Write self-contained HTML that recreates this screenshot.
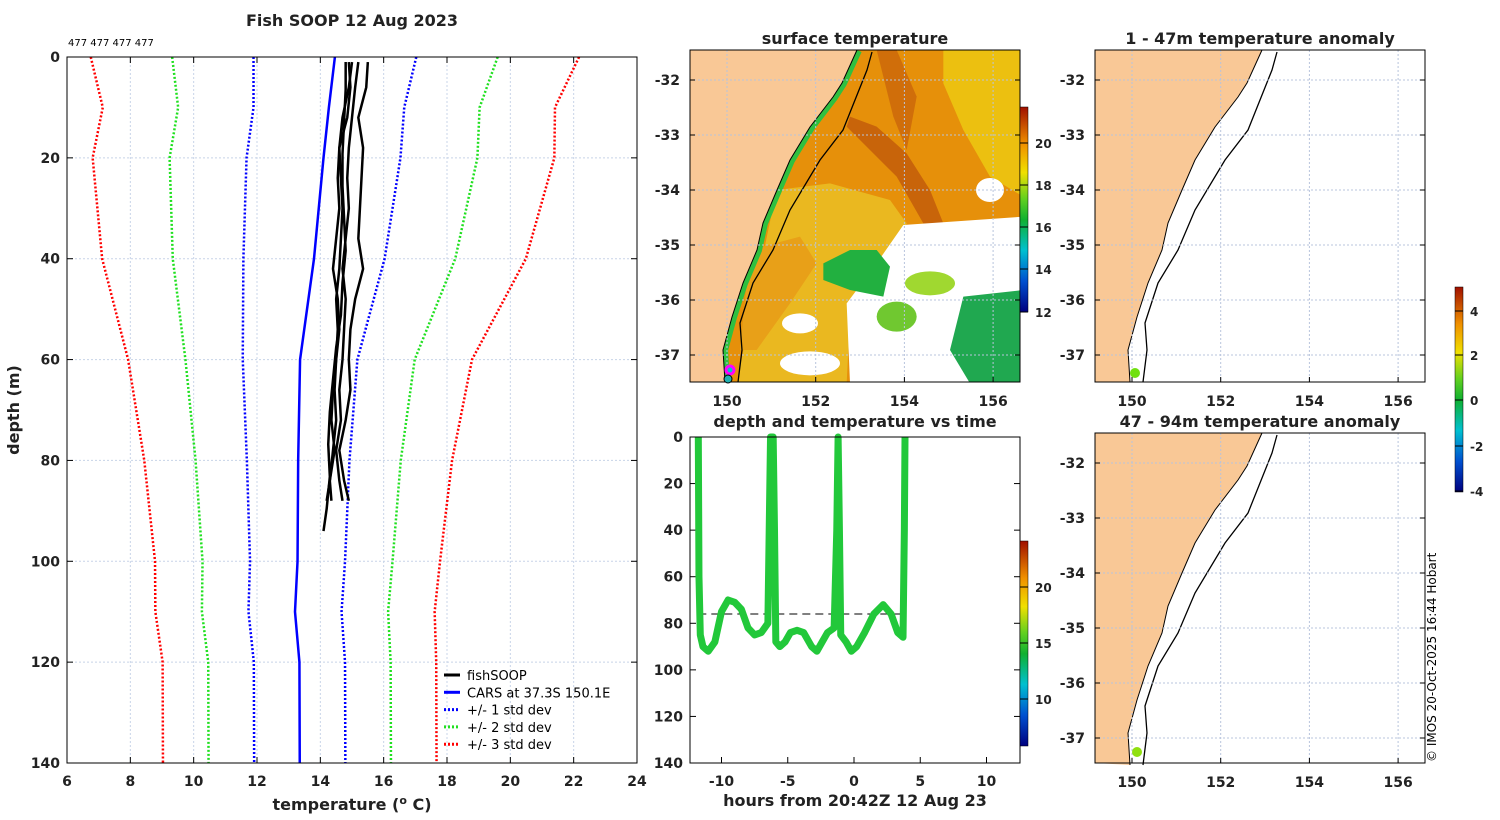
<!DOCTYPE html>
<html><head><meta charset="utf-8"><style>
body{margin:0;background:#fff;width:1500px;height:820px;overflow:hidden}
svg{display:block;font-family:"DejaVu Sans","Liberation Sans",sans-serif}
.t{font-weight:bold;font-size:16px;fill:#222}
.tk{font-weight:bold;font-size:14px;fill:#222}
</style></head><body>
<svg id="s" width="1500" height="820" viewBox="0 0 1500 820">
<defs>
<linearGradient id="jet" x1="0" y1="1" x2="0" y2="0">
<stop offset="0" stop-color="#00007f"/><stop offset="0.15" stop-color="#0050d0"/><stop offset="0.3" stop-color="#00c0d0"/><stop offset="0.45" stop-color="#10b030"/><stop offset="0.55" stop-color="#60d020"/><stop offset="0.68" stop-color="#f0e000"/><stop offset="0.82" stop-color="#f09000"/><stop offset="1" stop-color="#a01000"/></linearGradient>
<clipPath id="cm"><rect x="690" y="50" width="330" height="332"/></clipPath>
</defs>
<g id="left"></g>
<g id="mid"></g>
<g id="ts"></g>
<g id="right"></g>
</svg>
<script>
// profile data
const depths=[0,10,20,40,60,80,100,110,120,140];
const carsMean=[14.46,14.27,14.1,13.8,13.36,13.3,13.28,13.2,13.34,13.35];
const carsSd=[2.57,2.38,2.43,2.23,1.81,1.62,1.5,1.47,1.44,1.44];
const fishDepths=[1,6,12,18,24,30,36,42,48,54,60,66,72,78,84,88];
const fishA=[15.5,15.45,15.2,15.35,15.3,15.25,15.2,15.35,15.1,14.95,14.9,14.95,14.8,14.6,14.75,14.9];
const fishB=[15.2,15.1,15.0,14.9,14.85,14.9,14.8,14.7,14.8,14.75,14.7,14.6,14.65,14.5,14.6,14.7];
const fishC=[14.9,14.95,14.85,14.6,14.55,14.6,14.5,14.4,14.55,14.6,14.5,14.45,14.5,14.4,14.3,14.2];
const fishD=[14.8,14.8,14.75,14.7,14.7,14.75,14.8,14.7,14.65,14.5,14.4,14.3,14.25,14.3,14.2,14.1];
const fishE=[15.0,14.9,14.7,14.6,14.65,14.7,14.65,14.6,14.5,14.55,14.5,14.4,14.35,14.45,14.3,14.35];
const xTicks=[6,8,10,12,14,16,18,20,22,24];
const yTicks=[0,20,40,60,80,100,120,140];
// time series data
const tHours=[-11.75,-11.7,-11.6,-11.4,-11,-10.5,-10,-9.5,-9,-8.5,-8,-7.5,-7,-6.5,-6.4,-6.3,-6.1,-6.0,-5.9,-5.6,-5.2,-4.8,-4.3,-3.8,-3.2,-2.8,-2.4,-2,-1.5,-1.3,-1.2,-1.1,-1.0,-0.6,-0.2,0.2,0.8,1.5,2.2,2.8,3.3,3.7,3.8,3.85];
const tDepth=[0,60,85,90,92,88,75,70,71,74,82,85,84,80,40,0,0,40,88,90,88,84,83,84,90,92,88,84,82,40,0,40,85,88,92,90,84,76,72,76,84,86,40,0];
const tsXTicks=[-10,-5,0,5,10];
const tsYTicks=[0,20,40,60,80,100,120,140];
const mlDepth=76;

const NS='http://www.w3.org/2000/svg';
function mk(p,tag,at,txt){const e=document.createElementNS(NS,tag);for(const k in at)e.setAttribute(k,at[k]);if(txt!==undefined)e.textContent=txt;p.appendChild(e);return e;}

// ---- left panel
const L=document.getElementById('left');
const lx=v=>67+(v-6)*570/18, ly=d=>57+d*706/140;
mk(L,'rect',{x:67,y:57,width:570,height:706,fill:'#fff',stroke:'none'});
xTicks.forEach(v=>{const g=mk(L,'line',{x1:lx(v),x2:lx(v),y1:57,y2:763,stroke:'#c8d4e8','stroke-dasharray':'2,2','stroke-width':1});
 mk(L,'line',{x1:lx(v),x2:lx(v),y1:763,y2:757,stroke:'#000'});mk(L,'line',{x1:lx(v),x2:lx(v),y1:57,y2:63,stroke:'#000'});
 const t=mk(L,'text',{x:lx(v),y:786,'text-anchor':'middle',class:'tk'},v);});
yTicks.forEach(v=>{const g=mk(L,'line',{x1:67,x2:637,y1:ly(v),y2:ly(v),stroke:'#c8d4e8','stroke-dasharray':'2,2'});
 mk(L,'line',{x1:67,x2:73,y1:ly(v),y2:ly(v),stroke:'#000'});mk(L,'line',{x1:637,x2:631,y1:ly(v),y2:ly(v),stroke:'#000'});
 const t=mk(L,'text',{x:60,y:ly(v)+5,'text-anchor':'end',class:'tk'},v);});
function pline(vals,col,dash,w,name){const pts=depths.map((d,i)=>lx(vals[i])+','+ly(d)).join(' ');const e=mk(L,'polyline',{points:pts,fill:'none',stroke:col,'stroke-width':w});if(dash)e.setAttribute('stroke-dasharray',dash);}
[[3,'#ff0000'],[2,'#20e020'],[1,'#0000ff']].forEach(([k,c])=>{
 pline(carsMean.map((m,i)=>m-k*carsSd[i]),c,'2,2',2.5,'minus-'+k+'-std-line');
 pline(carsMean.map((m,i)=>m+k*carsSd[i]),c,'2,2',2.5,'plus-'+k+'-std-line');});
pline(carsMean,'#0000ff',null,2.5,'cars-mean-line');
[fishA,fishB,fishC,fishD,fishE].forEach((f,j)=>{const pts=fishDepths.map((d,i)=>lx(f[i])+','+ly(d+(j==3?i*0.4:0))).join(' ');const e=mk(L,'polyline',{points:pts,fill:'none',stroke:'#000','stroke-width':2.5,'stroke-linejoin':'round'});});
mk(L,'rect',{x:67,y:57,width:570,height:706,fill:'none',stroke:'#000'});
const tt=mk(L,'text',{x:352,y:26,'text-anchor':'middle',class:'t'},'Fish SOOP 12 Aug 2023');
const tc=mk(L,'text',{x:68,y:46,'font-size':'10px',fill:'#000'},'477 477 477 477');
const xl=mk(L,'text',{x:352,y:810,'text-anchor':'middle',class:'t'},'temperature (');
mk(xl,'tspan',{dy:-6,'font-size':'11px'},'o');mk(xl,'tspan',{dy:6},' C)');
const yl=mk(L,'text',{x:19,y:410,'text-anchor':'middle',class:'t',transform:'rotate(-90 19 410)'},'depth (m)');
[['fishSOOP','#000',null],['CARS at 37.3S 150.1E','#0000ff',null],['+/- 1 std dev','#0000ff','2,2'],['+/- 2 std dev','#20e020','2,2'],['+/- 3 std dev','#ff0000','2,2']].forEach(([s,c,d],i)=>{
 const g=mk(L,'g',{});
 const y=675+i*17.3;const l=mk(g,'line',{x1:444,x2:460,y1:y,y2:y,stroke:c,'stroke-width':3});if(d)l.setAttribute('stroke-dasharray',d);
 mk(g,'text',{x:467,y:y+5,'font-size':'13px',fill:'#000'},s);});

// ---- maps shared geometry
const coast=[[1262,50],[1247,83],[1238,97],[1215,127],[1195,160],[1182,190],[1168,223],[1162,250],[1148,283],[1137,317],[1128,350],[1130,382]];
const iso=[[1277,52],[1272,70],[1248,130],[1225,160],[1195,210],[1178,250],[1158,283],[1145,323],[1147,350],[1143,382]];
function map(P,dx,dy,y0,y1,yt,lats,colorfill){
 const x0=1095-dx,x1=1425-dx;
 const cp=coast.map(([x,y])=>(x-dx)+','+(y+dy)).join(' ');
 if(colorfill){colorfill();mk(P,'polyline',{points:cp,fill:'none',stroke:'#30c040','stroke-width':10,'clip-path':'url(#cm)'});}
 const land=mk(P,'polygon',{points:x0+','+(y0)+' '+cp+' '+x0+','+y1,fill:'#f9c896'});
 const c=mk(P,'polyline',{points:cp,fill:'none',stroke:'#000','stroke-width':1});
 const is=mk(P,'polyline',{points:iso.map(([x,y])=>(x-dx)+','+(y+dy)).join(' '),fill:'none',stroke:'#000','stroke-width':1.3});
 [150,152,154,156].forEach((lon,i)=>{const x=1132-dx+i*88.7;mk(P,'line',{x1:x,x2:x,y1:y0,y2:y1,stroke:'#b8c4dc','stroke-dasharray':'2,2'});mk(P,'line',{x1:x,x2:x,y1:y1,y2:y1-5,stroke:'#000'});
  const t=mk(P,'text',{x:x,y:y1+24,'text-anchor':'middle',class:'tk'},lon);});
 lats.forEach((la,i)=>{const y=yt+i*55;mk(P,'line',{x1:x0,x2:x1,y1:y,y2:y,stroke:'#b8c4dc','stroke-dasharray':'2,2'});mk(P,'line',{x1:x0,x2:x0+5,y1:y,y2:y,stroke:'#000'});mk(P,'line',{x1:x1,x2:x1-5,y1:y,y2:y,stroke:'#000'});
  const t=mk(P,'text',{x:x0-10,y:y+5,'text-anchor':'end',class:'tk'},la);});
 mk(P,'rect',{x:x0,y:y0,width:330,height:y1-y0,fill:'none',stroke:'#000'});
}
const lats=[-32,-33,-34,-35,-36,-37];
// middle map
const M=document.getElementById('mid');
const mg=mk(M,'g',{'clip-path':'url(#cm)'});
map(M,405,0,50,382,80,lats,()=>{
 const z=(a)=>a.map(([x,y])=>(690+x/3)+','+(50+y/3)).join(' ');
 mk(mg,'rect',{x:690,y:50,width:330,height:332,fill:'#e6900a'});
 mk(mg,'polygon',{points:z([[760,0],[1000,0],[1000,440],[900,380],[820,240],[760,100]]),fill:'#ecc010'});
 mk(mg,'polygon',{points:z([[480,200],[560,230],[650,310],[720,420],[760,520],[700,520],[620,380],[520,280],[470,230]]),fill:'#c8640a'});
 mk(mg,'polygon',{points:z([[560,0],[620,0],[680,140],[650,300],[610,200]]),fill:'#d06e0a'});
 mk(mg,'polygon',{points:z([[260,420],[420,400],[600,450],[650,520],[600,620],[480,800],[470,1000],[140,1000],[180,800]]),fill:'#eab820'});
 mk(mg,'polygon',{points:z([[180,600],[330,560],[380,640],[300,760],[200,900],[150,900]]),fill:'#e8a018'});
 mk(mg,'polygon',{points:z([[640,525],[1000,500],[1000,1000],[480,1000],[470,760],[560,640]]),fill:'#ffffff'});
 mk(mg,'polygon',{points:z([[400,640],[480,600],[560,600],[600,650],[580,740],[480,720],[400,690]]),fill:'#22b040'});
 mk(mg,'polygon',{points:z([[820,740],[1000,720],[1000,1000],[840,1000],[780,900]]),fill:'#20a850'});
 mk(mg,'ellipse',{cx:690+620/3,cy:50+800/3,rx:20,ry:15,fill:'#70c830'});
 mk(mg,'ellipse',{cx:690+720/3,cy:50+700/3,rx:25,ry:12,fill:'#a0d830'});
 mk(mg,'ellipse',{cx:690+900/3,cy:50+420/3,rx:14,ry:12,fill:'#ffffff'});
 mk(mg,'ellipse',{cx:690+330/3,cy:50+820/3,rx:18,ry:10,fill:'#ffffff'});
 mk(mg,'ellipse',{cx:690+360/3,cy:50+940/3,rx:30,ry:12,fill:'#ffffff'});
});
const mm=mk(M,'circle',{cx:730,cy:370,r:4,fill:'#00c8c0',stroke:'#ff00ff','stroke-width':3});
mk(M,'circle',{cx:728,cy:379,r:4,fill:'#20b0b0',stroke:'#000','stroke-width':1});
const cb1=mk(M,'rect',{x:1020,y:107,width:8,height:205,fill:'url(#jet)',stroke:'#000','stroke-width':0.5});
[[12,312],[14,269],[16,227],[18,185],[20,143]].forEach(([v,y])=>{mk(M,'line',{x1:1020,x2:1028,y1:y,y2:y,stroke:'#000'});const t=mk(M,'text',{x:1035,y:y+5,'font-size':'12px','font-weight':'bold',fill:'#222'},v);});
const t2=mk(M,'text',{x:855,y:44,'text-anchor':'middle',class:'t'},'surface temperature');

// ---- time series
const T=document.getElementById('ts');
const tx=h=>854+h*13.25, ty=d=>437+d*326/140;
tsXTicks.forEach(v=>{mk(T,'line',{x1:tx(v),x2:tx(v),y1:763,y2:757,stroke:'#000'});const t=mk(T,'text',{x:tx(v),y:786,'text-anchor':'middle',class:'tk'},v);});
tsYTicks.forEach(v=>{mk(T,'line',{x1:690,x2:696,y1:ty(v),y2:ty(v),stroke:'#000'});mk(T,'line',{x1:1020,x2:1014,y1:ty(v),y2:ty(v),stroke:'#000'});const t=mk(T,'text',{x:683,y:ty(v)+5,'text-anchor':'end',class:'tk'},v);});
const ml=mk(T,'line',{x1:tx(tHours[0]),x2:tx(tHours[tHours.length-1]),y1:ty(mlDepth),y2:ty(mlDepth),stroke:'#000','stroke-dasharray':'8,5'});
const tr=mk(T,'polyline',{points:tHours.map((h,i)=>tx(h)+','+ty(tDepth[i])).join(' '),fill:'none',stroke:'#22c83a','stroke-width':7,'stroke-linejoin':'round'});
mk(T,'rect',{x:690,y:437,width:330,height:326,fill:'none',stroke:'#000'});
const cb2=mk(T,'rect',{x:1020,y:541,width:8,height:205,fill:'url(#jet)',stroke:'#000','stroke-width':0.5});
[[20,587],[15,643],[10,699]].forEach(([v,y])=>{mk(T,'line',{x1:1020,x2:1028,y1:y,y2:y,stroke:'#000'});const t=mk(T,'text',{x:1035,y:y+5,'font-size':'12px','font-weight':'bold',fill:'#222'},v);});
const t3=mk(T,'text',{x:855,y:427,'text-anchor':'middle',class:'t'},'depth and temperature vs time');
const t4=mk(T,'text',{x:855,y:806,'text-anchor':'middle',class:'t'},'hours from 20:42Z 12 Aug 23');

// ---- right maps
const R=document.getElementById('right');
const r1=mk(R,'g',{});
map(r1,0,0,50,382,80,lats,null);
mk(r1,'circle',{cx:1135,cy:373,r:5,fill:'#70e010'});
const r2=mk(R,'g',{});
map(r2,0,383,433,763,463,lats,null);
mk(r2,'circle',{cx:1137,cy:752,r:5,fill:'#90e010'});
const t5=mk(R,'text',{x:1260,y:44,'text-anchor':'middle',class:'t'},'1 - 47m temperature anomaly');
const t6=mk(R,'text',{x:1260,y:427,'text-anchor':'middle',class:'t'},'47 - 94m temperature anomaly');
const cb3=mk(R,'rect',{x:1455,y:287,width:8,height:205,fill:'url(#jet)',stroke:'#000','stroke-width':0.5});
[[4,311],[2,355],[0,400],[-2,446],[-4,491]].forEach(([v,y])=>{mk(R,'line',{x1:1455,x2:1463,y1:y,y2:y,stroke:'#000'});const t=mk(R,'text',{x:1470,y:y+5,'font-size':'12px','font-weight':'bold',fill:'#222'},v);});
const cr=mk(R,'text',{x:1436,y:762,'font-size':'12px',fill:'#000',transform:'rotate(-90 1436 762)'},'© IMOS 20-Oct-2025 16:44 Hobart');
</script>
</body></html>
